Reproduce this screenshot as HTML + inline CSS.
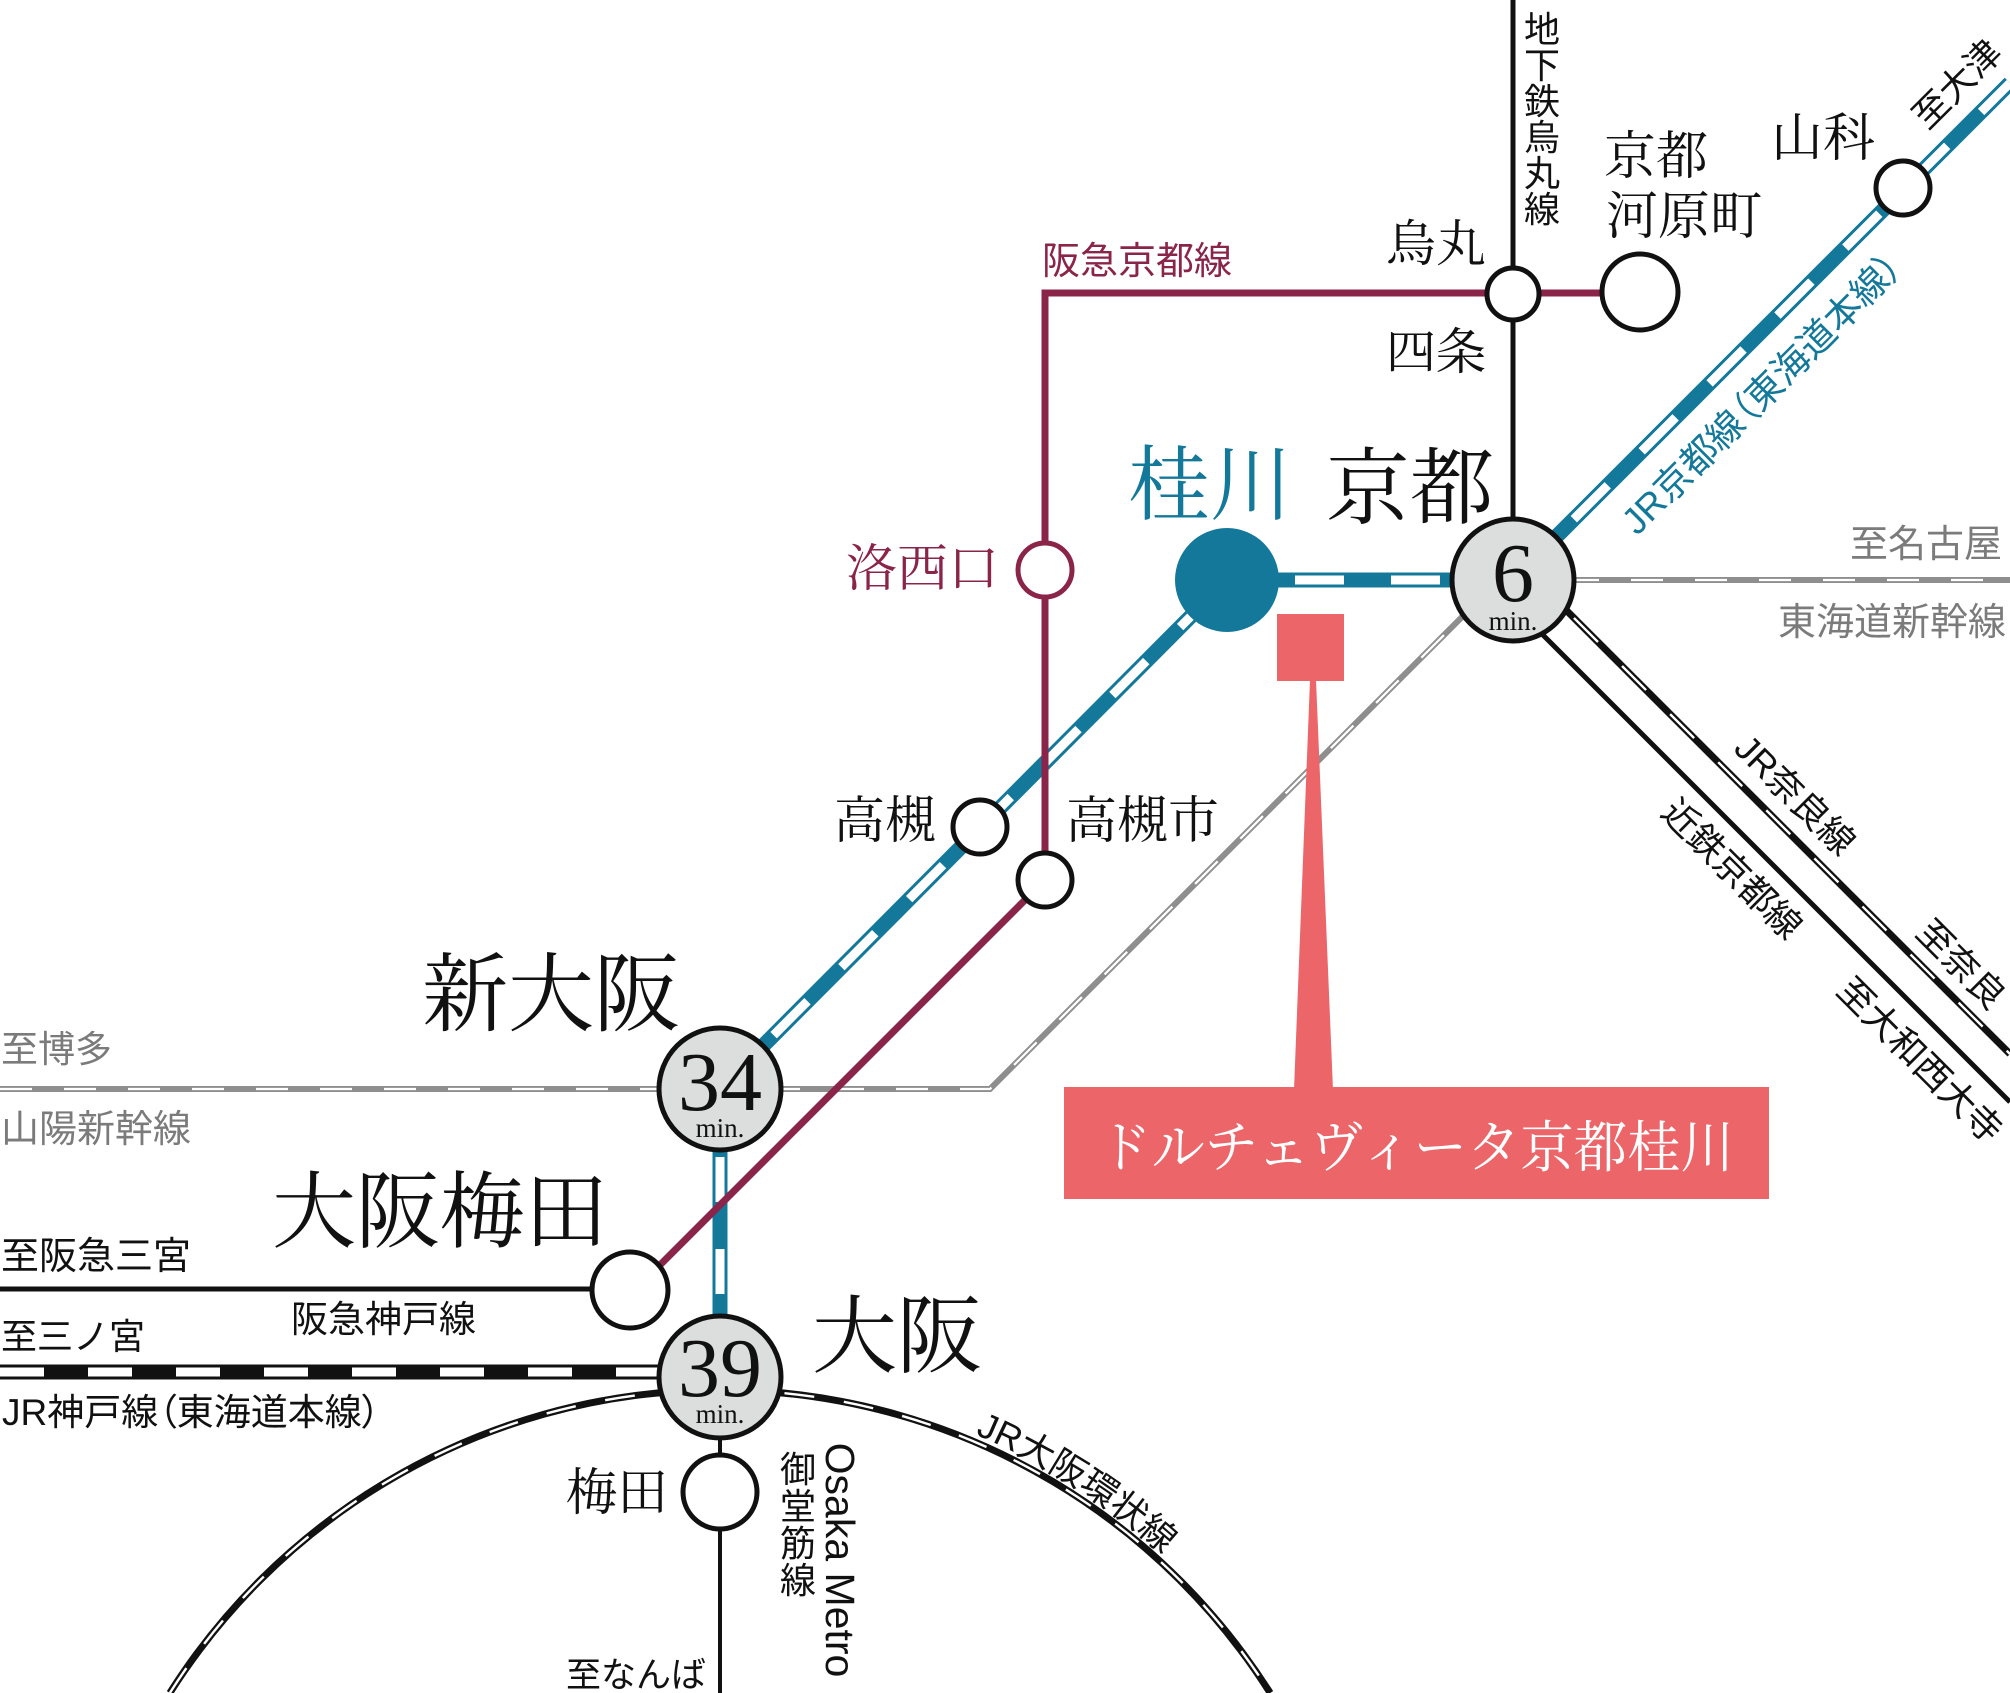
<!DOCTYPE html>
<html>
<head>
<meta charset="utf-8">
<style>
html,body{margin:0;padding:0;background:#fff;width:2010px;height:1693px;overflow:hidden;}
svg{display:block;}
.s{font-family:"Liberation Serif","Noto Serif CJK JP","Noto Serif CJK SC",serif;}
.g{font-family:"Liberation Sans","Noto Sans CJK JP",sans-serif;}
.n{font-family:"Liberation Serif",serif;}
.palt{font-feature-settings:"palt";}
</style>
</head>
<body>
<svg width="2010" height="1693" viewBox="0 0 2010 1693" xmlns="http://www.w3.org/2000/svg">
<defs>
<path id="loopText" d="M 720 1383 A 658 658 0 0 1 1378 2041"/>
</defs>

<!-- Shinkansen (gray) -->
<g fill="none">
<path d="M 0 1089 L 990 1089 L 1490 589" stroke="#8e8e8e" stroke-width="6"/>
<path d="M 0 1089 L 990 1089 L 1490 589" stroke="#fff" stroke-width="2.2" stroke-dasharray="32 32"/>
<path d="M 1513 580 L 2010 580" stroke="#8e8e8e" stroke-width="6"/>
<path d="M 1513 580 L 2010 580" stroke="#fff" stroke-width="2.2" stroke-dasharray="32 32" stroke-dashoffset="10"/>
</g>

<!-- Osaka loop line -->
<g fill="none">
<path d="M 169.8 1693 A 651 651 0 0 1 1270.2 1693" stroke="#111" stroke-width="7"/>
<path d="M 169.8 1693 A 651 651 0 0 1 1270.2 1693" stroke="#fff" stroke-width="2.4" stroke-dasharray="30 30"/>
</g>

<!-- JR Kyoto line (teal) -->
<g fill="none" stroke-linecap="butt">
<path d="M 720 1089 L 1227 580" stroke="#14789a" stroke-width="15"/>
<path d="M 720 1089 L 1227 580" stroke="#fff" stroke-width="9" stroke-dasharray="48 48" stroke-dashoffset="20"/>
<path d="M 1227 580 L 1513 580" stroke="#14789a" stroke-width="15"/>
<path d="M 1227 580 L 1513 580" stroke="#fff" stroke-width="9" stroke-dasharray="49 47" stroke-dashoffset="28"/>
<path d="M 1513 580 L 2010 83" stroke="#14789a" stroke-width="15"/>
<path d="M 1513 580 L 2010 83" stroke="#fff" stroke-width="9" stroke-dasharray="48 48" stroke-dashoffset="10"/>
<path d="M 720 1089 L 720 1377" stroke="#14789a" stroke-width="15"/>
<path d="M 720 1089 L 720 1377" stroke="#fff" stroke-width="9" stroke-dasharray="45 47" stroke-dashoffset="24"/>
</g>

<!-- JR Kobe line -->
<g fill="none">
<path d="M 0 1372 L 720 1372" stroke="#111" stroke-width="15"/>
<path d="M 0 1372 L 720 1372" stroke="#fff" stroke-width="9" stroke-dasharray="44 44"/>
</g>

<!-- Hankyu Kobe line -->
<path d="M 0 1289 L 630 1289" stroke="#111" stroke-width="5" fill="none"/>

<!-- Hankyu Kyoto line (maroon) -->
<path d="M 1640 293 L 1045 293 L 1045 880 L 630 1295" stroke="#8a2449" stroke-width="7" fill="none" stroke-linejoin="miter"/>

<!-- Karasuma subway -->
<path d="M 1513 0 L 1513 580" stroke="#111" stroke-width="5" fill="none"/>

<!-- Kintetsu -->
<path d="M 1500 592 L 2010 1102" stroke="#111" stroke-width="5" fill="none"/>
<!-- JR Nara -->
<g fill="none">
<path d="M 1540 584 L 2010 1054" stroke="#111" stroke-width="7"/>
<path d="M 1540 584 L 2010 1054" stroke="#fff" stroke-width="2.4" stroke-dasharray="34 34" stroke-dashoffset="20"/>
</g>

<!-- Midosuji -->
<path d="M 720 1377 L 720 1693" stroke="#111" stroke-width="4" fill="none"/>

<!-- Stations -->
<g stroke="#111" stroke-width="5" fill="#fff">
<circle cx="1513" cy="294" r="26"/>
<circle cx="1640" cy="292" r="38"/>
<circle cx="1903" cy="188" r="27"/>
<circle cx="980" cy="827" r="27"/>
<circle cx="1045" cy="880" r="27"/>
<circle cx="630" cy="1290" r="38"/>
<circle cx="720" cy="1492" r="37"/>
</g>
<circle cx="1045" cy="570" r="27" stroke="#8a2449" stroke-width="5" fill="#fff"/>
<circle cx="1227" cy="580" r="52" fill="#14789a"/>
<g stroke="#111" stroke-width="5" fill="#dcdddd">
<circle cx="1513" cy="580" r="61"/>
<circle cx="720" cy="1089" r="61"/>
<circle cx="720" cy="1377" r="61"/>
</g>

<!-- Times -->
<g class="n" fill="#111" text-anchor="middle">
<text x="1513" y="601" font-size="84">6</text>
<text x="1513" y="630" font-size="27">min.</text>
<text x="720" y="1110" font-size="84">34</text>
<text x="720" y="1137" font-size="27">min.</text>
<text x="720" y="1396" font-size="84">39</text>
<text x="720" y="1423" font-size="27">min.</text>
</g>

<!-- Pink marker -->
<rect x="1277" y="614" width="67" height="67" fill="#eb6569"/>
<polygon points="1310,680 1316,680 1333,1090 1294,1090" fill="#eb6569"/>
<rect x="1064" y="1087" width="705" height="112" fill="#eb6569"/>
<text class="s" x="1416" y="1167" font-size="56" fill="#fff" text-anchor="middle" textLength="636" lengthAdjust="spacingAndGlyphs">ドルチェヴィータ京都桂川</text>

<!-- Serif station labels -->
<g class="s" fill="#111">
<text x="1386" y="261" font-size="50">烏丸</text>
<text x="1386" y="369" font-size="50">四条</text>
<text x="1604" y="174" font-size="52">京都</text>
<text x="1606" y="234" font-size="52">河原町</text>
<text x="1771" y="156" font-size="52">山科</text>
<text x="1326" y="517" font-size="84">京都</text>
<text x="834" y="838" font-size="51">高槻</text>
<text x="1066" y="838" font-size="51">高槻市</text>
<text x="422" y="1024" font-size="86">新大阪</text>
<text x="272" y="1241" font-size="84">大阪梅田</text>
<text x="812" y="1366" font-size="85">大阪</text>
<text x="566" y="1510" font-size="51">梅田</text>
</g>
<text class="s" x="1128" y="513" font-size="82" fill="#14789a">桂川</text>
<text class="s" x="846" y="586" font-size="51" fill="#8a2449">洛西口</text>

<!-- Sans labels -->
<g class="g" fill="#111">
<text x="1542" font-size="36" text-anchor="middle">
<tspan x="1542" y="42">地</tspan><tspan x="1542" y="78">下</tspan><tspan x="1542" y="114">鉄</tspan><tspan x="1542" y="150">烏</tspan><tspan x="1542" y="186">丸</tspan><tspan x="1542" y="222">線</tspan>
</text>
<text font-size="36" text-anchor="middle" dominant-baseline="central" transform="translate(1957 84) rotate(-45)">至大津</text>
<text font-size="36" text-anchor="middle" dominant-baseline="central" transform="translate(1795 795) rotate(45)">JR奈良線</text>
<text font-size="36" text-anchor="middle" dominant-baseline="central" transform="translate(1732 869) rotate(45)">近鉄京都線</text>
<text font-size="36" text-anchor="middle" dominant-baseline="central" transform="translate(1961 964) rotate(45)">至奈良</text>
<text font-size="36" text-anchor="middle" dominant-baseline="central" transform="translate(1920 1060) rotate(45)">至大和西大寺</text>
<text x="1" y="1269" font-size="38">至阪急三宮</text>
<text x="291" y="1332" font-size="37">阪急神戸線</text>
<text x="1" y="1349" font-size="36">至三ノ宮</text>
<text class="palt" x="2" y="1425" font-size="37">JR神戸線（東海道本線）</text>
<text x="566" y="1687" font-size="35">至なんば</text>
<text x="798" font-size="36" text-anchor="middle">
<tspan x="798" y="1482">御</tspan><tspan x="798" y="1519">堂</tspan><tspan x="798" y="1556">筋</tspan><tspan x="798" y="1593">線</tspan>
</text>
<text font-size="41" text-anchor="middle" dominant-baseline="central" transform="translate(840 1560) rotate(90)">Osaka Metro</text>
<text font-size="36"><textPath href="#loopText" startOffset="374" text-anchor="middle">JR大阪環状線</textPath></text>
</g>
<text class="g palt" font-size="37" fill="#14789a" text-anchor="middle" dominant-baseline="central" transform="translate(1762 394) rotate(-45)">JR京都線（東海道本線）</text>
<text class="g" x="1042" y="274" font-size="38" fill="#8a2449">阪急京都線</text>
<g class="g" fill="#7b7b7b">
<text x="1850" y="557" font-size="38">至名古屋</text>
<text x="1778" y="635" font-size="38">東海道新幹線</text>
<text x="1" y="1062" font-size="37">至博多</text>
<text x="1" y="1142" font-size="38">山陽新幹線</text>
</g>
</svg>
</body>
</html>
